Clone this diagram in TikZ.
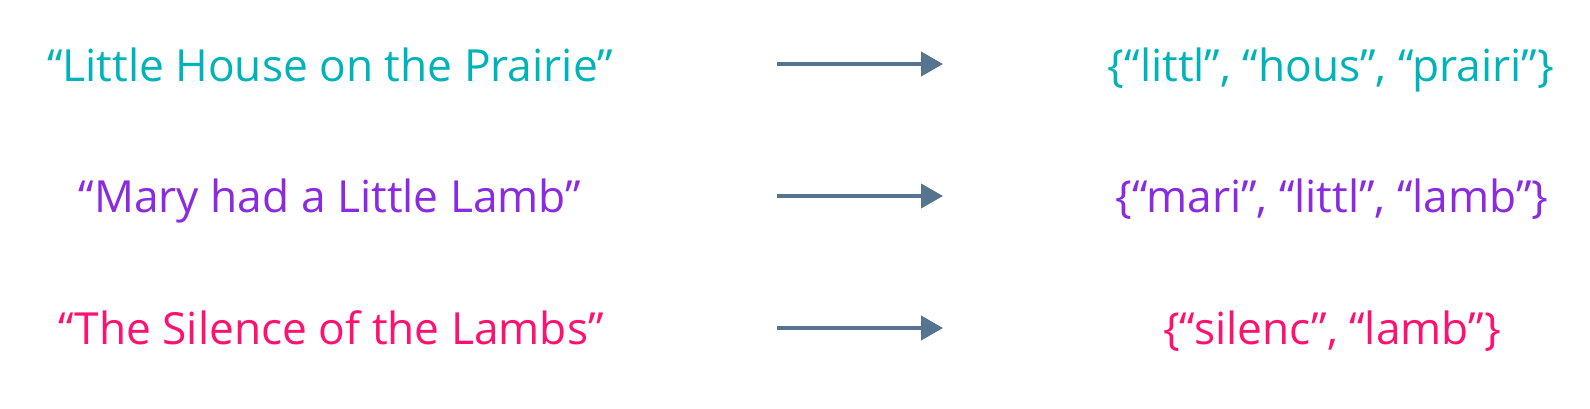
\documentclass[tikz,border=0pt]{standalone}
\usepackage{fontspec}
\setmainfont{Open Sans}
\usetikzlibrary{arrows.meta}
\definecolor{cteal}{HTML}{00B3B8}
\definecolor{cpurple}{HTML}{8A2BE2}
\definecolor{cpink}{HTML}{FF1170}
\definecolor{carrow}{HTML}{56738F}
\begin{document}
\begin{tikzpicture}[x=0.75pt,y=-0.75pt,
  lbl/.style={anchor=base,inner sep=0pt,font=\fontsize{33.2}{38}\selectfont},
  conn/.style={draw=carrow,line width=3pt,-{Triangle[length=16.5pt,width=18pt]}}]
\useasboundingbox (0,0) rectangle (1590,408);
\node[lbl,text=cteal] (l1) at (330,81) {“Little House on the Prairie”};
\node[lbl,text=cpurple] (l2) at (330,212) {“Mary had a Little Lamb”};
\node[lbl,text=cpink] (l3) at (331,344) {“The Silence of the Lambs”};
\node[lbl,text=cteal] (r1) at (1331,81) {\{“littl”, “hous”, “prairi”\}};
\node[lbl,text=cpurple] (r2) at (1332,212) {\{“mari”, “littl”, “lamb”\}};
\node[lbl,text=cpink] (r3) at (1332,344) {\{“silenc”, “lamb”\}};
\coordinate (a1s) at (777,64); \coordinate (a1e) at (943,64);
\coordinate (a2s) at (777,196); \coordinate (a2e) at (943,196);
\coordinate (a3s) at (777,328); \coordinate (a3e) at (943,328);
\draw[conn] (a1s) -- (a1e);
\draw[conn] (a2s) -- (a2e);
\draw[conn] (a3s) -- (a3e);
\end{tikzpicture}
\end{document}
